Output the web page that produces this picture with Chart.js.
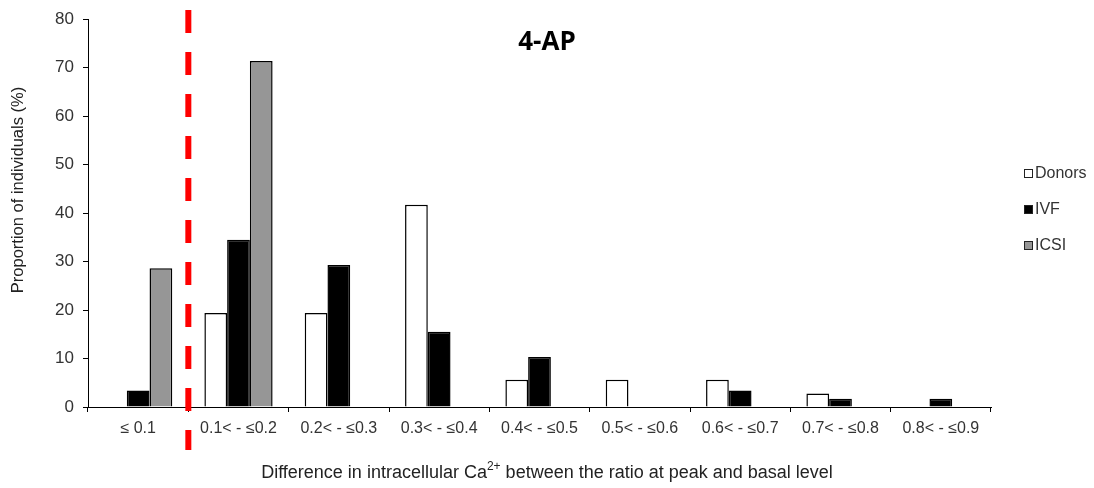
<!DOCTYPE html>
<html>
<head>
<meta charset="utf-8">
<script src="https://cdn.jsdelivr.net/npm/chart.js@4/dist/chart.umd.min.js"></script>
<style>
  html, body { margin: 0; padding: 0; background: #fff; }
  #wrap { position: relative; width: 1094px; height: 488px; }
</style>
</head>
<body>
<div id="wrap"><canvas id="chartDestination"></canvas></div>
<script>
const categories = ["≤ 0.1", "0.1< - ≤0.2", "0.2< - ≤0.3", "0.3< - ≤0.4", "0.4< - ≤0.5",
  "0.5< - ≤0.6", "0.6< - ≤0.7", "0.7< - ≤0.8", "0.8< - ≤0.9"];
const donors = [0, 19.4, 19.4, 41.7, 5.6, 5.6, 5.6, 2.8, 0];
const ivf = [3.4, 34.5, 29.3, 15.5, 10.3, 0, 3.4, 1.7, 1.7];
const icsi = [28.6, 71.4, 0, 0, 0, 0, 0, 0, 0];
const yTicks = [0, 10, 20, 30, 40, 50, 60, 70, 80];

const FONT = "'Liberation Sans', Arial, sans-serif";
const TEXT = "#333";

// title, threshold line, legend and both axis captions (x one needs a superscript)
const extrasPlugin = {
  id: "extras",
  afterDraw(chart) {
    const { ctx, scales: { x } } = chart;
    ctx.save();

    // dashed threshold between first and second class
    const lx = (x.getPixelForValue(0) + x.getPixelForValue(1)) / 2;
    ctx.strokeStyle = "#ff0000";
    ctx.lineWidth = 6;
    ctx.setLineDash([23, 19]);
    ctx.beginPath();
    ctx.moveTo(lx, 10);
    ctx.lineTo(lx, 450);
    ctx.stroke();
    ctx.setLineDash([]);

    // panel title
    ctx.fillStyle = "#000";
    ctx.font = "bold 26px 'Open Sans', 'DejaVu Sans', sans-serif";
    ctx.textAlign = "center";
    ctx.textBaseline = "alphabetic";
    ctx.fillText("4-AP", chart.width / 2, 50);

    // y axis caption
    ctx.save();
    ctx.translate(18, 190);
    ctx.rotate(-Math.PI / 2);
    ctx.font = "16.5px " + FONT;
    ctx.fillStyle = "#222";
    ctx.textBaseline = "middle";
    ctx.fillText("Proportion of individuals (%)", 0, 0);
    ctx.restore();

    // legend
    ctx.font = "16px " + FONT;
    ctx.textAlign = "left";
    ctx.textBaseline = "middle";
    chart.data.datasets.forEach((ds, i) => {
      const y = 173 + i * 36;
      ctx.fillStyle = ds.backgroundColor;
      ctx.fillRect(1024, y - 4, 9, 9);
      ctx.strokeStyle = "#222";
      ctx.lineWidth = 1;
      ctx.strokeRect(1024.5, y - 3.5, 8, 8);
      ctx.fillStyle = TEXT;
      ctx.fillText(ds.label, 1035, y + 1);
    });

    // x axis caption with Ca2+ superscript
    const parts = [
      { t: "Difference in intracellular Ca", size: 18, dy: 0 },
      { t: "2+", size: 12, dy: -8 },
      { t: " between the ratio at peak and basal level", size: 18, dy: 0 },
    ];
    let total = 0;
    parts.forEach((p) => {
      ctx.font = p.size + "px " + FONT;
      p.w = ctx.measureText(p.t).width;
      total += p.w;
    });
    let cx = chart.width / 2 - total / 2;
    ctx.textBaseline = "alphabetic";
    ctx.fillStyle = "#222";
    parts.forEach((p) => {
      ctx.font = p.size + "px " + FONT;
      ctx.fillText(p.t, cx, 478 + p.dy);
      cx += p.w;
    });

    ctx.restore();
  },
};

const ctx = document.getElementById("chartDestination");
const chart = new Chart(ctx, {
  type: "bar",
  data: {
    labels: categories,
    datasets: [
      { label: "Donors", data: donors, backgroundColor: "#ffffff" },
      { label: "IVF", data: ivf, backgroundColor: "#000000" },
      { label: "ICSI", data: icsi, backgroundColor: "#969696" },
    ],
  },
  options: {
    responsive: true,
    maintainAspectRatio: false,
    animation: false,
    layout: { padding: { left: 0, right: 103, top: 16, bottom: 0 } },
    datasets: {
      bar: {
        borderColor: "#000",
        borderWidth: 1.5,
        categoryPercentage: 0.68,
        barPercentage: 1,
      },
    },
    plugins: {
      legend: { display: false },
      tooltip: { enabled: false },
    },
    scales: {
      x: {
        grid: { offset: true, drawOnChartArea: false, tickLength: 5, color: "#000" },
        border: { color: "#000", width: 1 },
        ticks: { color: TEXT, font: { family: FONT, size: 16 }, padding: 7, maxRotation: 0 },
        afterFit(scale) { scale.height = 81; },
      },
      y: {
        min: 0,
        max: 80,
        afterBuildTicks(scale) { scale.ticks = yTicks.map((v) => ({ value: v })); },
        grid: { drawOnChartArea: false, tickLength: 5, color: "#000" },
        border: { color: "#000", width: 1 },
        ticks: { color: TEXT, font: { family: FONT, size: 17 }, padding: 9 },
        afterFit(scale) { scale.width = 88; },
      },
    },
  },
  plugins: [extrasPlugin],
});
</script>
</body>
</html>
